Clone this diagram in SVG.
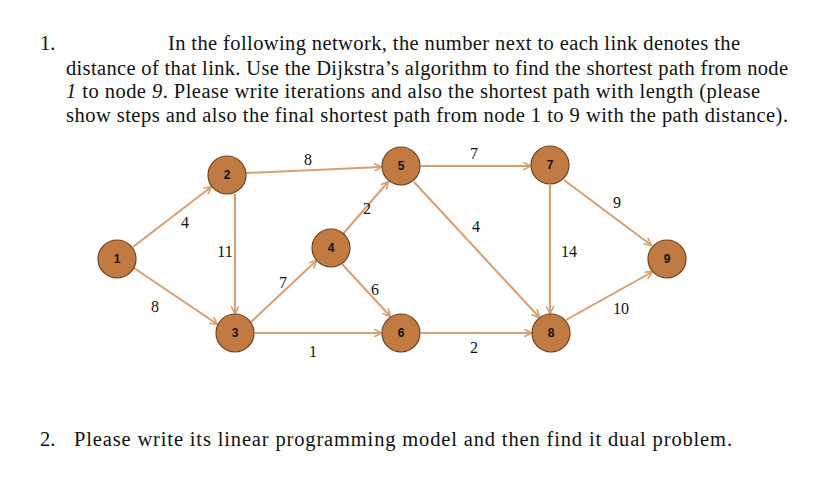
<svg xmlns="http://www.w3.org/2000/svg" width="816" height="483" viewBox="0 0 816 483">
<style>
.t{font-family:"Liberation Serif",serif;font-size:20.5px;fill:#111}
.n circle{fill:#c17b42;stroke:#6e4220;stroke-width:1.2}
.n text{font-family:"Liberation Sans",sans-serif;font-size:12px;font-weight:bold;fill:#111;text-anchor:middle}
.e line{stroke:#d4a072;stroke-width:2;marker-end:url(#a)}
.l{font-family:"Liberation Serif",serif;font-size:16px;fill:#111;text-anchor:middle}
</style>
<defs><marker id="a" viewBox="0 0 10 10" refX="9" refY="5" markerWidth="8" markerHeight="8" orient="auto" markerUnits="userSpaceOnUse"><path d="M0,0L10,5L0,10" fill="none" stroke="#d4a072" stroke-width="2"/></marker></defs>
<rect width="816" height="483" fill="#fff"/>
<text class="t" x="40" y="50">1.</text>
<text class="t" x="168" y="50" textLength="572" lengthAdjust="spacing">In the following network, the number next to each link denotes the</text>
<text class="t" x="66" y="75" textLength="722" lengthAdjust="spacing">distance of that link. Use the Dijkstra’s algorithm to find the shortest path from node</text>
<text class="t" x="66" y="98" textLength="694" lengthAdjust="spacing"><tspan font-style="italic">1</tspan> to node <tspan font-style="italic">9</tspan>. Please write iterations and also the shortest path with length (please</text>
<text class="t" x="66" y="122" textLength="722" lengthAdjust="spacing">show steps and also the final shortest path from node 1 to 9 with the path distance).</text>
<text class="t" x="40" y="446">2.</text>
<text class="t" x="74" y="446" textLength="658" lengthAdjust="spacing">Please write its linear programming model and then find it dual problem.</text>
<g class="e" id="edges">
<line x1="133" y1="247" x2="211" y2="187"/>
<line x1="134" y1="268" x2="217" y2="324"/>
<line x1="235" y1="194" x2="235" y2="313"/>
<line x1="246" y1="173" x2="381" y2="167"/>
<line x1="251" y1="322" x2="316" y2="261"/>
<line x1="343" y1="234" x2="388" y2="182"/>
<line x1="342" y1="264" x2="390" y2="316"/>
<line x1="255" y1="333" x2="381" y2="333"/>
<line x1="421" y1="166" x2="530" y2="166"/>
<line x1="414" y1="182" x2="539" y2="317"/>
<line x1="421" y1="333" x2="531" y2="333"/>
<line x1="550" y1="185" x2="550" y2="313"/>
<line x1="564" y1="180" x2="651" y2="245"/>
<line x1="566" y1="320" x2="652" y2="272"/>
</g>
<g id="labels">
<text class="l" x="185" y="228">4</text><text class="l" x="155" y="312">8</text>
<text class="l" x="225" y="257">11</text><text class="l" x="308" y="165">8</text>
<text class="l" x="367" y="214">2</text><text class="l" x="283" y="288">7</text>
<text class="l" x="375" y="295">6</text><text class="l" x="313" y="357">1</text>
<text class="l" x="476" y="232">4</text><text class="l" x="474" y="159">7</text>
<text class="l" x="569" y="257">14</text><text class="l" x="617" y="208">9</text>
<text class="l" x="621" y="314">10</text><text class="l" x="474" y="353">2</text>
</g>
<g class="n" id="n1"><circle cx="117" cy="259" r="19"/><text x="117" y="263">1</text></g>
<g class="n" id="n2"><circle cx="227" cy="175" r="19"/><text x="227" y="179">2</text></g>
<g class="n" id="n3"><circle cx="235" cy="333" r="19"/><text x="235" y="337">3</text></g>
<g class="n" id="n4"><circle cx="331" cy="248" r="19"/><text x="331" y="252">4</text></g>
<g class="n" id="n5"><circle cx="401" cy="166" r="19"/><text x="401" y="170">5</text></g>
<g class="n" id="n6"><circle cx="401" cy="333" r="19"/><text x="401" y="337">6</text></g>
<g class="n" id="n7"><circle cx="550" cy="165" r="19"/><text x="550" y="169">7</text></g>
<g class="n" id="n8"><circle cx="551" cy="333" r="19"/><text x="551" y="337">8</text></g>
<g class="n" id="n9"><circle cx="667" cy="259" r="19"/><text x="667" y="263">9</text></g>
</svg>
